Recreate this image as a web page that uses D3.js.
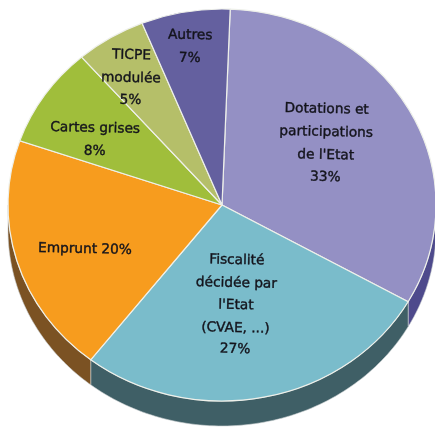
<!DOCTYPE html>
<html><head><meta charset="utf-8">
<script src="https://cdn.jsdelivr.net/npm/d3@7"></script>
<style>html,body{margin:0;padding:0;background:#fff;overflow:hidden}svg{display:block;filter:blur(.4px)}</style>
</head><body><svg id="c" width="435" height="427"></svg>
<script>
const categories = ["Dotations et participations de l'Etat","Fiscalité décidée par l'Etat (CVAE, ...)","Emprunt","Cartes grises","TICPE modulée","Autres"];
const values = [32.6,27.3,19.8,8.3,5.3,6.7];
const labelLines = [
  ["Dotations et","participations","de l'Etat","33%"],
  ["Fiscalité","décidée par","l'Etat","(CVAE, ...)","27%"],
  ["Emprunt 20%"],
  ["Cartes grises","8%"],
  ["TICPE","modulée","5%"],
  ["Autres","7%"]
];
const topColors = ["#9490c4","#7abccb","#f79c1e","#a0be3b","#b5bf69","#64609f"];
const wallColors = ["#4e4a8c","#3f5f66","#7b5223","#5e7022","#6c733e","#3b3960"];
const labelX = [326,236,85,95,131,190];
const labelY = [[108,131,154,176],[259,282,304,327,348],[248],[127,150],[54,77,99],[34,57]];

const cx=222, cy=205, rx=214, ry=196, depth=25;
const svg=d3.select("#c");
const pie=d3.pie().sort(null).value(d=>d).startAngle(2.2*Math.PI/180).endAngle(2.2*Math.PI/180+2*Math.PI);
const arcs=pie(values);
const arc=d3.arc().innerRadius(0).outerRadius(rx);
const g=svg.append("g");
const px=a=>cx+rx*Math.sin(a), py=a=>cy-ry*Math.cos(a);

// side wall: band between the rim and the rim shifted down, on the front half only
const wall=d3.area().x(a=>px(a)).y0(a=>py(a)).y1(a=>py(a)+depth);
arcs.forEach((d,i)=>{
  const a0=Math.max(d.startAngle,Math.PI/2), a1=Math.min(d.endAngle,3*Math.PI/2);
  if(a1<=a0) return;
  g.append("path").attr("d",wall(d3.range(0,81).map(k=>a0+(a1-a0)*k/80)))
   .attr("fill",wallColors[i]).attr("stroke","#c9cfd0").attr("stroke-width",.6);
});
// top face
const face=g.append("g").attr("transform",`translate(${cx},${cy}) scale(1,${ry/rx})`);
face.selectAll("path").data(arcs).join("path")
  .attr("d",arc).attr("fill",(d,i)=>topColors[i])
  .attr("stroke","#eef0ea").attr("stroke-width",1.2).attr("vector-effect","non-scaling-stroke");
// labels
labelLines.forEach((lines,i)=>{
  const ys=labelY[i], my=d3.mean(ys);
  const t=svg.append("g").attr("transform",`rotate(1.2,${labelX[i]},${my})`);
  lines.forEach((s,j)=>{
    t.append("text").attr("x",labelX[i]).attr("y",ys[j]).attr("dy","0.36em")
     .attr("text-anchor","middle").attr("font-family","'DejaVu Sans',Verdana,sans-serif")
     .attr("font-size",13.7).attr("fill","#14141c").attr("stroke","#14141c").attr("stroke-width",.4).text(s);
  });
});
</script></body></html>
